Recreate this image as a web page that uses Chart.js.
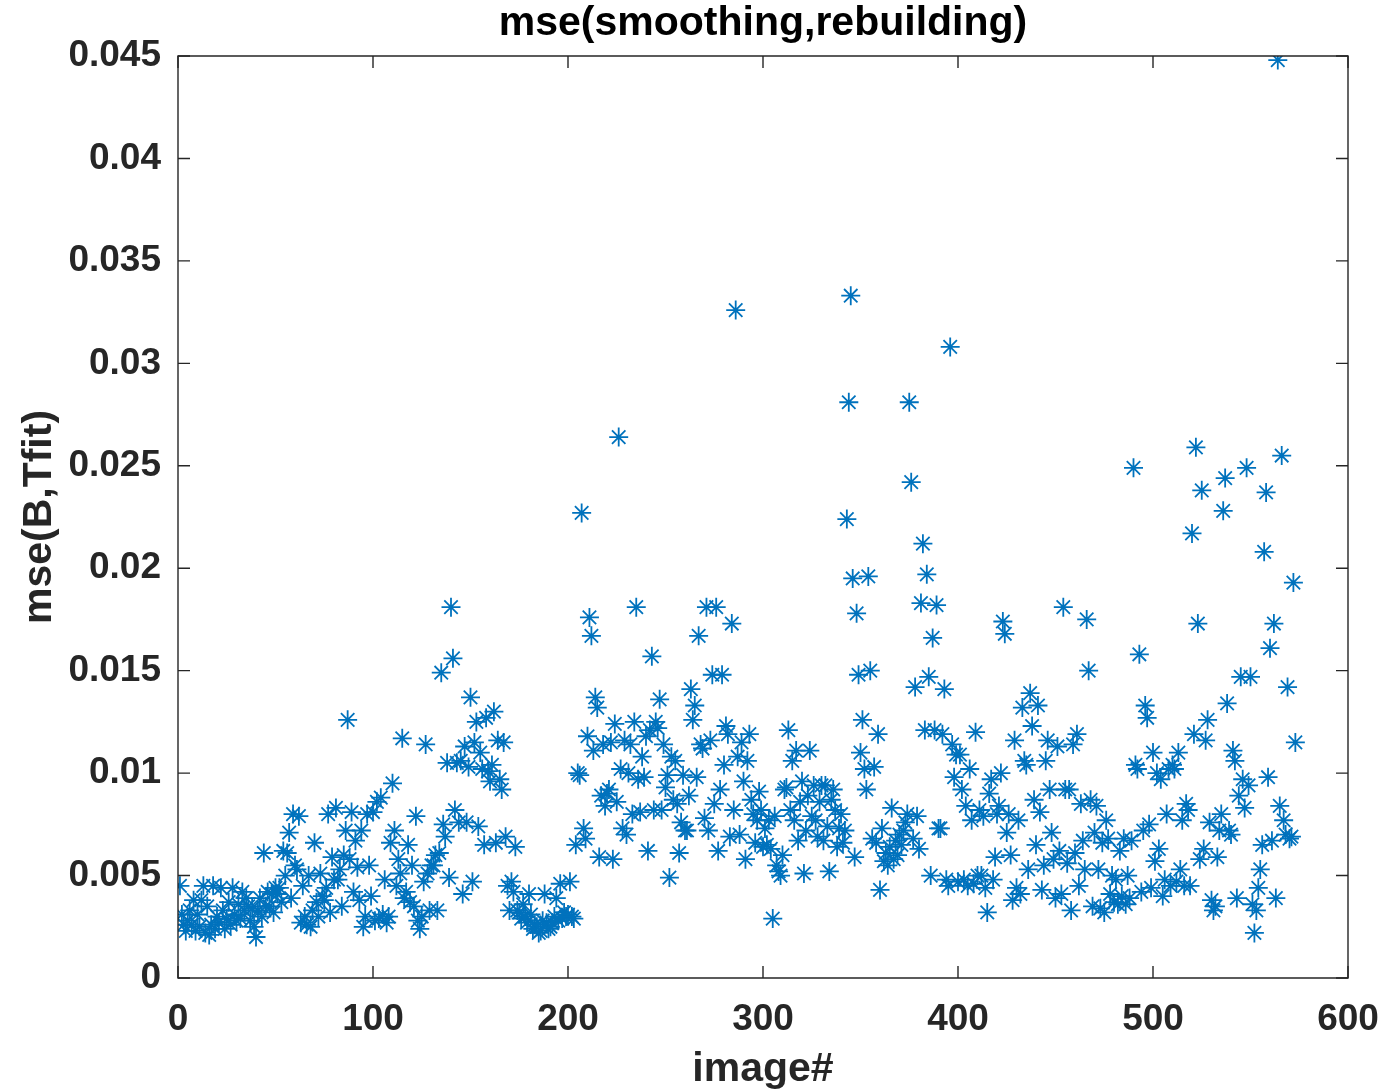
<!DOCTYPE html>
<html>
<head>
<meta charset="utf-8">
<script src="https://cdn.jsdelivr.net/npm/chart.js@4.4.1/dist/chart.umd.min.js"></script>
<style>
  html, body { margin: 0; padding: 0; background: #ffffff; }
  #wrap { width: 1383px; height: 1090px; }
</style>
</head>
<body>
<div id="wrap"><canvas id="c" width="1383" height="1090"></canvas></div>
<script>
// ---- data (image index = position in array + 1) ----
const titleText = 'mse(smoothing,rebuilding)';
const xLabel = 'image#';
const yLabel = 'mse(B,Tfit)';
const xTicks = [0, 100, 200, 300, 400, 500, 600];
const yTicks = [0, 0.005, 0.01, 0.015, 0.02, 0.025, 0.03, 0.035, 0.04, 0.045];

// images 1-200
const msePart1 = [
  0.0045, 0.0031, 0.0026, 0.0023, 0.0028, 0.0033, 0.0026, 0.0038, 0.0023, 0.0031,
  0.0025, 0.0038, 0.0045, 0.0022, 0.0035, 0.0021, 0.0026, 0.0045, 0.0024, 0.0030,
  0.0027, 0.0044, 0.0033, 0.0024, 0.0029, 0.0037, 0.0026, 0.0044, 0.0031, 0.0028,
  0.0036, 0.0029, 0.0042, 0.0033, 0.0039, 0.0035, 0.0028, 0.0034, 0.0025, 0.0020,
  0.0033, 0.0039, 0.0030, 0.0061, 0.0035, 0.0042, 0.0035, 0.0041, 0.0032, 0.0044,
  0.0041, 0.0044, 0.0037, 0.0062, 0.0050, 0.0061, 0.0071, 0.0039, 0.0080, 0.0055,
  0.0053, 0.0079, 0.0027, 0.0045, 0.0030, 0.0026, 0.0050, 0.0025, 0.0033, 0.0066,
  0.0037, 0.0030, 0.0051, 0.0040, 0.0038, 0.0044, 0.0080, 0.0032, 0.0059, 0.0048,
  0.0083, 0.0048, 0.0053, 0.0035, 0.0060, 0.0072, 0.0126, 0.0058, 0.0081, 0.0042,
  0.0067, 0.0054, 0.0038, 0.0072, 0.0025, 0.0030, 0.0080, 0.0055, 0.0040, 0.0081,
  0.0028, 0.0086, 0.0029, 0.0088, 0.0031, 0.0048, 0.0027, 0.0030, 0.0066, 0.0095,
  0.0072, 0.0045, 0.0058, 0.0051, 0.0117, 0.0039, 0.0042, 0.0065, 0.0037, 0.0055,
  0.0035, 0.0079, 0.0028, 0.0024, 0.0030, 0.0047, 0.0114, 0.0051, 0.0033, 0.0055,
  0.0055, 0.0060, 0.0033, 0.0061, 0.0149, 0.0075, 0.0069, 0.0105, 0.0049, 0.0181,
  0.0156, 0.0082, 0.0105, 0.0076, 0.0106, 0.0041, 0.0113, 0.0076, 0.0103, 0.0137,
  0.0047, 0.0115, 0.0125, 0.0074, 0.0110, 0.0102, 0.0065, 0.0127, 0.0101, 0.0096,
  0.0104, 0.0130, 0.0066, 0.0116, 0.0097, 0.0092, 0.0115, 0.0069, 0.0045, 0.0033,
  0.0047, 0.0042, 0.0064, 0.0033, 0.0032, 0.0029, 0.0036, 0.0030, 0.0027, 0.0041,
  0.0031, 0.0024, 0.0026, 0.0025, 0.0022, 0.0023, 0.0028, 0.0041, 0.0027, 0.0024,
  0.0025, 0.0027, 0.0030, 0.0039, 0.0028, 0.0046, 0.0029, 0.0032, 0.0030, 0.0031
];

// images 201-400
const msePart2 = [
  0.0047, 0.0030, 0.0029, 0.0065, 0.0100, 0.0099, 0.0227, 0.0073, 0.0068, 0.0118,
  0.0176, 0.0167, 0.0111, 0.0137, 0.0132, 0.0059, 0.0089, 0.0114, 0.0084, 0.0090,
  0.0092, 0.0115, 0.0058, 0.0124, 0.0086, 0.0264, 0.0102, 0.0073, 0.0116, 0.0070,
  0.0100, 0.0114, 0.0080, 0.0125, 0.0181, 0.0097, 0.0081, 0.0108, 0.0098, 0.0118,
  0.0062, 0.0121, 0.0157, 0.0082, 0.0125, 0.0122, 0.0136, 0.0082, 0.0114, 0.0093,
  0.0099, 0.0049, 0.0108, 0.0087, 0.0106, 0.0085, 0.0061, 0.0076, 0.0099, 0.0072,
  0.0072, 0.0089, 0.0141, 0.0126, 0.0133, 0.0098, 0.0167, 0.0114, 0.0112, 0.0078,
  0.0181, 0.0072, 0.0116, 0.0148, 0.0085, 0.0181, 0.0062, 0.0092, 0.0148, 0.0104,
  0.0123, 0.0119, 0.0069, 0.0173, 0.0082, 0.0326, 0.0108, 0.0070, 0.0115, 0.0096,
  0.0058, 0.0106, 0.0119, 0.0087, 0.0080, 0.0066, 0.0077, 0.0091, 0.0082, 0.0064,
  0.0073, 0.0065, 0.0077, 0.0063, 0.0029, 0.0079, 0.0055, 0.0052, 0.0050, 0.0060,
  0.0092, 0.0093, 0.0121, 0.0082, 0.0106, 0.0077, 0.0111, 0.0067, 0.0086, 0.0096,
  0.0051, 0.0072, 0.0089, 0.0111, 0.0079, 0.0094, 0.0077, 0.0069, 0.0086, 0.0094,
  0.0067, 0.0094, 0.0074, 0.0052, 0.0087, 0.0092, 0.0082, 0.0064, 0.0073, 0.0080,
  0.0066, 0.0072, 0.0224, 0.0281, 0.0333, 0.0195, 0.0059, 0.0178, 0.0148, 0.0110,
  0.0126, 0.0102, 0.0092, 0.0196, 0.0150, 0.0068, 0.0103, 0.0066, 0.0119, 0.0043,
  0.0073, 0.0057, 0.0061, 0.0055, 0.0064, 0.0083, 0.0058, 0.0067, 0.0060, 0.0070,
  0.0065, 0.0072, 0.0076, 0.0080, 0.0281, 0.0242, 0.0068, 0.0142, 0.0079, 0.0063,
  0.0183, 0.0212, 0.0121, 0.0197, 0.0147, 0.0050, 0.0166, 0.0121, 0.0182, 0.0073,
  0.0073, 0.0119, 0.0141, 0.0048, 0.0045, 0.0308, 0.0114, 0.0098, 0.0109, 0.0047
];

// images 401-573
const msePart3 = [
  0.0109, 0.0092, 0.0048, 0.0084, 0.0045, 0.0102, 0.0077, 0.0046, 0.0120, 0.0050,
  0.0082, 0.0050, 0.0079, 0.0044, 0.0032, 0.0090, 0.0097, 0.0048, 0.0059, 0.0080,
  0.0084, 0.0100, 0.0174, 0.0168, 0.0071, 0.0080, 0.0060, 0.0038, 0.0116, 0.0044,
  0.0077, 0.0041, 0.0132, 0.0106, 0.0104, 0.0053, 0.0139, 0.0123, 0.0087, 0.0065,
  0.0133, 0.0081, 0.0043, 0.0055, 0.0106, 0.0116, 0.0092, 0.0071, 0.0058, 0.0039,
  0.0113, 0.0062, 0.0041, 0.0181, 0.0092, 0.0056, 0.0092, 0.0033, 0.0114, 0.0061,
  0.0119, 0.0045, 0.0085, 0.0067, 0.0053, 0.0175, 0.0150, 0.0087, 0.0035, 0.0071,
  0.0084, 0.0053, 0.0034, 0.0066, 0.0032, 0.0077, 0.0068, 0.0041, 0.0050, 0.0037,
  0.0048, 0.0036, 0.0062, 0.0040, 0.0068, 0.0036, 0.0050, 0.0039, 0.0067, 0.0249,
  0.0104, 0.0102, 0.0158, 0.0042, 0.0072, 0.0133, 0.0127, 0.0075, 0.0044, 0.0110,
  0.0057, 0.0100, 0.0063, 0.0097, 0.0040, 0.0048, 0.0080, 0.0102, 0.0045, 0.0104,
  0.0102, 0.0047, 0.0110, 0.0053, 0.0077, 0.0045, 0.0085, 0.0082, 0.0045, 0.0217,
  0.0119, 0.0259, 0.0173, 0.0058, 0.0238, 0.0063, 0.0116, 0.0126, 0.0076, 0.0038,
  0.0033, 0.0035, 0.0059, 0.0072, 0.0080, 0.0228, 0.0244, 0.0134, 0.0072, 0.0070,
  0.0111, 0.0106, 0.0039, 0.0089, 0.0147, 0.0097, 0.0083, 0.0249, 0.0094, 0.0147,
  0.0036, 0.0022, 0.0033, 0.0044, 0.0053, 0.0065, 0.0208, 0.0237, 0.0098, 0.0161,
  0.0067, 0.0173, 0.0039, 0.0448, 0.0084, 0.0255, 0.0077, 0.0070, 0.0142, 0.0068,
  0.0069, 0.0193, 0.0115
];

const mseValues = msePart1.concat(msePart2, msePart3);
const points = mseValues.map((v, i) => ({ x: i + 1, y: v }));

const FONT = "'Liberation Sans', Arial, Helvetica, sans-serif";
const AXIS_COLOR = '#262626';

// MATLAB-style box with inward tick marks on all four sides, and title centred over the axes
const boxPlugin = {
  id: 'matlabBox',
  afterDraw(chart) {
    const { ctx, chartArea: a, scales } = chart;
    const tl = 12;
    ctx.save();
    ctx.strokeStyle = AXIS_COLOR;
    ctx.lineWidth = 1.4;
    ctx.beginPath();
    ctx.rect(a.left, a.top, a.right - a.left, a.bottom - a.top);
    ctx.stroke();
    ctx.beginPath();
    xTicks.forEach(t => {
      const px = scales.x.getPixelForValue(t);
      ctx.moveTo(px, a.bottom); ctx.lineTo(px, a.bottom - tl);
      ctx.moveTo(px, a.top); ctx.lineTo(px, a.top + tl);
    });
    yTicks.forEach(t => {
      const py = scales.y.getPixelForValue(t);
      ctx.moveTo(a.left, py); ctx.lineTo(a.left + tl, py);
      ctx.moveTo(a.right, py); ctx.lineTo(a.right - tl, py);
    });
    ctx.stroke();
    // title
    ctx.fillStyle = '#000000';
    ctx.font = 'bold 41px ' + FONT;
    ctx.textAlign = 'center';
    ctx.textBaseline = 'middle';
    ctx.fillText(titleText, (a.left + a.right) / 2, a.top - 32);
    ctx.restore();
  }
};

new Chart(document.getElementById('c'), {
  type: 'scatter',
  data: {
    datasets: [{
      label: 'mse',
      data: points,
      pointStyle: 'star',
      pointRadius: 9.5,
      pointHoverRadius: 9.5,
      pointBorderWidth: 1.8,
      borderColor: '#0072BD',
      backgroundColor: '#0072BD'
    }]
  },
  options: {
    responsive: false,
    animation: false,
    events: [],
    layout: { padding: { left: 0, right: 35, top: 56, bottom: 0 } },
    plugins: {
      legend: { display: false },
      tooltip: { enabled: false },
      title: { display: false }
    },
    scales: {
      x: {
        type: 'linear',
        min: 0, max: 600,
        afterBuildTicks(scale) { scale.ticks = xTicks.map(v => ({ value: v })); },
        ticks: {
          color: AXIS_COLOR,
          font: { family: FONT, size: 37, weight: 'bold' },
          padding: 20,
          maxRotation: 0,
          callback: v => String(v)
        },
        grid: { display: false, drawTicks: false },
        border: { display: false },
        title: {
          display: true,
          text: xLabel,
          color: AXIS_COLOR,
          font: { family: FONT, size: 41, weight: 'bold', lineHeight: 1 },
          padding: { top: 0, bottom: 0 }
        },
        afterFit(scale) { scale.height = 112; scale.paddingLeft = 0; scale.paddingRight = 0; }
      },
      y: {
        type: 'linear',
        min: 0, max: 0.045,
        afterBuildTicks(scale) { scale.ticks = yTicks.map(v => ({ value: v })); },
        ticks: {
          color: AXIS_COLOR,
          font: { family: FONT, size: 37, weight: 'bold' },
          padding: 17,
          callback: v => (v === 0 ? '0' : String(+Number(v).toFixed(3)))
        },
        grid: { display: false, drawTicks: false },
        border: { display: false },
        title: {
          display: true,
          text: yLabel,
          color: AXIS_COLOR,
          font: { family: FONT, size: 41, weight: 'bold', lineHeight: 1 },
          padding: { top: 19.5, bottom: 0 }
        },
        afterFit(scale) { scale.width = 178; scale.paddingTop = 0; scale.paddingBottom = 0; }
      }
    }
  },
  plugins: [boxPlugin]
});
</script>
</body>
</html>
